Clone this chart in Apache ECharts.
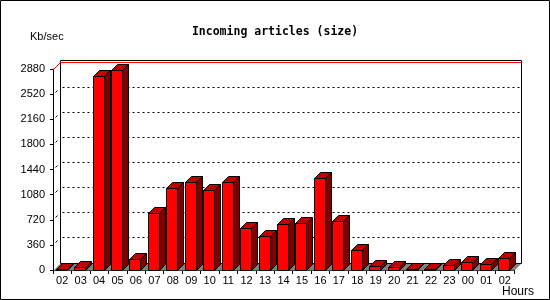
<!DOCTYPE html>
<html><head><meta charset="utf-8">
<script src="https://cdn.jsdelivr.net/npm/echarts@6/dist/echarts.min.js"></script>
<style>html,body{margin:0;padding:0;background:#fff}#c{width:550px;height:300px}</style>
</head><body><div id="c"></div>
<script>
const hours = ['02','03','04','05','06','07','08','09','10','11','12','13','14','15','16','17','18','19','20','21','22','23','00','01','02'];
const kbPerSec = [10, 35, 2777, 2862, 150, 805, 1168, 1254, 1139, 1254, 595, 480, 648, 666, 1307, 695, 279, 46, 32, 14, 8, 60, 107, 75, 160];
const yTicks = [0, 360, 720, 1080, 1440, 1800, 2160, 2520, 2880];
const yMax = 2880;

const DEPTH = 7;
const BAR_DEPTH = 6;
const LABEL_FONT = 'Liberation Sans';
const crisp = v => Math.round(v - 0.5) + 0.5;

function renderFrame(params, api) {
  const bw = api.size([1, 0])[0];
  const L = crisp(api.coord([0, 0])[0] - bw / 2);
  const R = crisp(api.coord([hours.length - 1, 0])[0] + bw / 2);
  const B = crisp(api.coord([0, 0])[1]);
  const D = DEPTH;
  const yTop = crisp(api.coord([0, yMax])[1]);
  const Tb = yTop - D - 2;
  const children = [];
  children.push({type: 'polygon', shape: {points: [[L, B], [R, B], [R + D, B - D], [L + D, B - D]]},
    style: {fill: '#808080', stroke: null}});
  children.push({type: 'rect', shape: {x: L + D, y: Tb, width: R - L, height: B - D - Tb},
    style: {fill: null, stroke: '#000', lineWidth: 1}});
  yTicks.forEach(v => {
    if (v === 0) return;
    const y = crisp(api.coord([0, v])[1]);
    if (v === yMax) {
      children.push({type: 'polyline', shape: {points: [[L, y], [L + D, y - D], [R + D, y - D]]},
        style: {fill: null, stroke: '#ff0000', lineWidth: 1}});
    } else {
      children.push({type: 'line', shape: {x1: L + D + 2, y1: y - D, x2: R + D, y2: y - D},
        style: {stroke: '#000', lineWidth: 1, lineDash: [2, 3]}});
      children.push({type: 'line', shape: {x1: L + 2, y1: y - 2, x2: L + 4, y2: y - 4},
        style: {stroke: '#000', lineWidth: 1}});
    }
  });
  return {type: 'group', children};
}

function renderBar(params, api) {
  const i = api.value(0), v = api.value(1);
  const bw = api.size([1, 0])[0];
  const c = api.coord([i, 0]), t = api.coord([i, v]);
  const x0 = crisp(c[0] - bw / 2 + 3.2);
  const w = Math.round(bw * 0.62);
  const yb = crisp(c[1]);
  const yt = crisp(t[1]);
  const d = BAR_DEPTH;
  const st = {stroke: '#000', lineWidth: 1};
  return {type: 'group', children: [
    {type: 'polygon', shape: {points: [[x0 + w, yb], [x0 + w, yt], [x0 + w + d, yt - d], [x0 + w + d, yb - d]]},
      style: Object.assign({fill: '#800000'}, st)},
    {type: 'polygon', shape: {points: [[x0, yt], [x0 + d, yt - d], [x0 + w + d, yt - d], [x0 + w, yt]]},
      style: Object.assign({fill: '#c00000'}, st)},
    {type: 'rect', shape: {x: x0, y: yt, width: w, height: yb - yt},
      style: Object.assign({fill: '#ff0000'}, st)}
  ]};
}

const chart = echarts.init(document.getElementById('c'), null, {renderer: 'canvas'});
chart.setOption({
  animation: false,
  backgroundColor: '#fff',
  title: {
    text: 'Incoming articles (size)', left: 'center', top: 20,
    textStyle: {fontFamily: 'DejaVu Sans Mono', fontWeight: 'bold', fontSize: 11.5, color: '#000', lineHeight: 14}
  },
  grid: {left: 53, right: 36, top: 69, bottom: 30, containLabel: false},
  xAxis: {
    type: 'category', data: hours, boundaryGap: true,
    axisLine: {lineStyle: {color: '#000', width: 1}},
    axisTick: {show: true, length: 4, lineStyle: {color: '#000'}},
    axisLabel: {interval: 0, margin: 5, color: '#000', fontFamily: LABEL_FONT, fontSize: 11},
    splitLine: {show: false}
  },
  yAxis: {
    type: 'value', min: 0, max: yMax, interval: 360,
    axisLine: {show: true, lineStyle: {color: '#000', width: 1}},
    axisTick: {show: true, length: 3, lineStyle: {color: '#000'}},
    axisLabel: {margin: 8, color: '#000', fontFamily: LABEL_FONT, fontSize: 11, formatter: v => String(v)},
    splitLine: {show: false}
  },
  graphic: [
    {type: 'rect', shape: {x: 0.5, y: 0.5, width: 549, height: 299}, style: {fill: null, stroke: '#000', lineWidth: 1}, z: 100},
    {type: 'text', left: 30, top: 31, style: {text: 'Kb/sec', fill: '#000', font: '11px "Liberation Sans"'}},
    {type: 'text', right: 16, top: 286, style: {text: 'Hours', fill: '#000', font: '12px "Liberation Sans"'}}
  ],
  series: [
    {type: 'custom', renderItem: renderFrame, data: [[0, 0]], z: 1, silent: true, clip: false},
    {type: 'custom', renderItem: renderBar, data: kbPerSec.map((v, i) => [i, v]), z: 2, clip: false}
  ]
});
</script>
</body></html>
